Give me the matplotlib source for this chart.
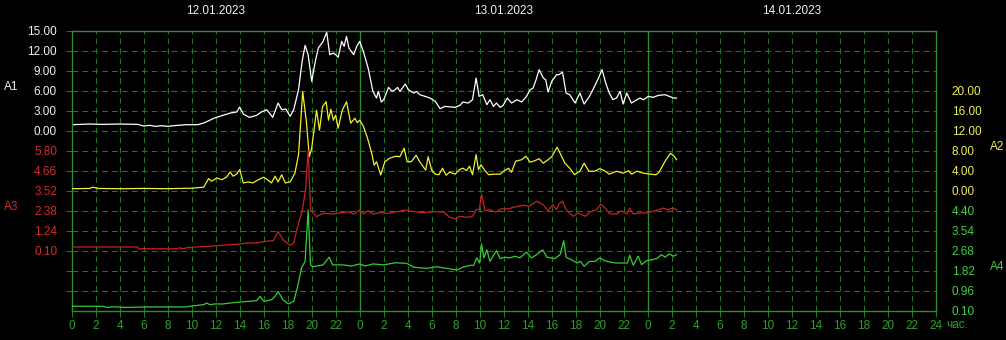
import numpy as np
import matplotlib
matplotlib.use('Agg')
import matplotlib.pyplot as plt

plt.rcParams['font.family'] = ['Liberation Sans', 'DejaVu Sans']

# hours counted from 00:00 of 12.01.2023
dates = ['12.01.2023', '13.01.2023', '14.01.2023']

a1 = [(0, 0.9), (1.5, 1.0), (2.5, 0.95), (4, 1.0), (5.5, 0.95), (6, 0.7), (6.5, 0.8), (7, 0.65),
      (7.5, 0.75), (8, 0.65), (8.5, 0.75), (9.5, 0.9), (10.5, 0.9), (11.0, 1.15), (11.9, 1.9),
      (12.6, 2.3), (13.2, 2.65), (13.75, 2.8), (14.0, 3.55), (14.3, 2.5), (14.8, 2.0), (15.4, 2.3),
      (15.8, 2.8), (16.25, 3.15), (16.75, 2.0), (17.2, 4.15), (17.5, 3.15), (17.85, 3.25),
      (18.2, 2.15), (18.5, 3.15), (18.9, 6.15), (19.2, 10.4), (19.45, 12.8), (19.7, 11.4),
      (20.0, 7.4), (20.3, 10.4), (20.55, 12.4), (20.95, 13.4), (21.25, 14.8), (21.5, 11.4),
      (21.8, 11.65), (22.0, 11.4), (22.2, 11.0), (22.5, 13.4), (22.7, 12.65), (22.9, 14.15),
      (23.1, 12.4), (23.5, 11.4), (23.75, 12.65), (24.0, 13.4), (24.3, 11.9), (24.7, 9.4),
      (25.1, 5.9), (25.4, 4.9), (25.55, 5.9), (25.8, 4.3), (26.0, 4.65), (26.4, 6.5), (26.7, 5.9),
      (26.95, 6.15), (27.15, 6.5), (27.35, 5.9), (27.8, 7.0), (28.05, 6.15), (28.5, 5.65),
      (28.75, 5.9), (29.0, 5.4), (29.45, 5.15), (29.85, 4.9), (30.3, 4.4), (30.7, 3.3),
      (31.1, 3.65), (31.95, 3.5), (32.35, 3.8), (32.6, 4.3), (33.05, 4.15), (33.4, 4.65),
      (33.7, 7.9), (33.95, 5.15), (34.25, 5.4), (34.6, 3.9), (34.85, 4.65), (35.15, 3.65),
      (35.4, 4.15), (35.7, 3.5), (35.95, 3.8), (36.3, 4.9), (36.65, 4.15), (37.1, 4.65),
      (37.5, 4.3), (37.9, 5.15), (38.2, 6.15), (38.45, 6.4), (38.7, 7.65), (38.95, 9.15),
      (39.3, 7.9), (39.5, 7.65), (39.7, 5.8), (40.0, 7.4), (40.4, 8.4), (40.6, 8.4), (40.9, 8.8),
      (41.2, 5.65), (41.5, 5.4), (41.95, 4.15), (42.35, 5.65), (42.7, 4.0), (43.15, 5.15),
      (43.5, 6.4), (43.9, 7.9), (44.2, 9.15), (44.5, 7.15), (44.8, 5.65), (45.1, 4.65),
      (45.4, 4.9), (45.7, 5.9), (45.95, 4.0), (46.25, 5.65), (46.65, 4.15), (47.1, 4.65),
      (47.35, 4.9), (47.65, 4.65), (48.05, 5.15), (48.45, 5.0), (48.9, 5.3), (49.45, 5.4),
      (49.8, 5.15), (50.15, 4.9), (50.4, 4.9)]

a2 = [(0, 0.4), (1.5, 0.45), (1.75, 0.7), (2.2, 0.45), (4, 0.4), (6, 0.45), (8, 0.4), (10, 0.5),
      (11.0, 0.7), (11.4, 2.4), (11.65, 1.9), (12.1, 2.55), (12.5, 2.2), (12.9, 2.7), (13.2, 3.75),
      (13.45, 2.9), (13.75, 3.35), (14.0, 4.2), (14.3, 1.55), (14.7, 1.75), (15.1, 1.55),
      (15.55, 2.2), (16.0, 2.7), (16.3, 2.2), (16.65, 1.55), (16.95, 2.9), (17.2, 1.75),
      (17.5, 3.2), (17.8, 1.55), (18.2, 1.75), (18.6, 3.5), (18.9, 7.2), (19.25, 19.8),
      (19.55, 13.9), (19.8, 6.8), (20.0, 8.5), (20.4, 16.1), (20.65, 12.1), (20.9, 16.8),
      (21.2, 17.8), (21.4, 14.1), (21.6, 16.3), (21.8, 14.1), (22.0, 15.1), (22.2, 12.5),
      (22.55, 16.1), (22.9, 17.8), (23.25, 13.5), (23.6, 14.5), (23.8, 13.6), (24.0, 14.1),
      (24.3, 12.9), (24.65, 10.5), (25.0, 7.5), (25.2, 5.1), (25.4, 5.8), (25.75, 3.15),
      (26.1, 5.8), (26.5, 6.5), (27.0, 6.9), (27.35, 6.8), (27.7, 8.5), (27.95, 5.8), (28.3, 5.8),
      (28.7, 7.1), (29.0, 5.8), (29.5, 4.1), (29.7, 6.8), (30.0, 4.1), (30.3, 3.3), (30.6, 3.2),
      (30.9, 4.5), (31.2, 3.1), (31.5, 3.7), (31.95, 3.3), (32.3, 4.2), (32.6, 4.5), (32.9, 4.0),
      (33.15, 4.9), (33.4, 3.2), (33.7, 7.2), (33.9, 4.2), (34.1, 5.2), (34.45, 4.0),
      (34.75, 3.2), (35.15, 3.3), (35.7, 3.3), (36.0, 3.9), (36.4, 4.5), (36.65, 3.7),
      (37.0, 5.9), (37.5, 6.2), (37.85, 6.9), (38.2, 5.7), (38.6, 6.0), (38.95, 6.4), (39.3, 5.5),
      (39.7, 6.2), (40.0, 6.8), (40.45, 8.7), (40.7, 7.5), (41.1, 5.5), (41.5, 4.5), (41.9, 3.2),
      (42.35, 3.9), (42.7, 5.5), (43.1, 3.9), (43.6, 3.9), (44.0, 4.4), (44.4, 4.0), (44.8, 3.3),
      (45.4, 3.9), (45.95, 3.5), (46.4, 4.0), (46.65, 3.3), (47.1, 3.9), (47.65, 3.5),
      (48.2, 3.3), (48.7, 3.2), (48.95, 3.7), (49.45, 5.9), (49.9, 7.5), (50.2, 6.9), (50.4, 6.2)]

a3 = [(0, 0.31), (5.5, 0.31), (5.6, 0.21), (8.8, 0.21), (9.0, 0.27), (9.2, 0.21), (9.6, 0.27),
      (9.86, 0.29), (11.5, 0.35), (12.6, 0.41), (14.0, 0.48), (14.6, 0.54), (15.4, 0.54),
      (16.2, 0.64), (16.8, 0.67), (17.2, 1.2), (17.6, 0.73), (18.2, 0.41), (18.5, 0.54),
      (18.8, 1.4), (19.25, 2.5), (19.5, 3.7), (19.7, 5.84), (19.9, 2.42), (20.4, 2.04),
      (20.95, 2.23), (21.8, 2.19), (22.5, 2.27), (23.05, 2.32), (23.5, 2.19), (24.0, 2.42),
      (24.3, 2.19), (24.7, 2.38), (25.1, 2.19), (25.7, 2.27), (26.4, 2.23), (27.1, 2.32),
      (27.8, 2.42), (28.5, 2.32), (29.3, 2.27), (30.1, 2.32), (31.0, 2.31), (31.5, 2.0),
      (31.95, 1.92), (32.35, 2.06), (32.9, 2.0), (33.4, 2.06), (33.7, 2.44), (33.97, 2.44),
      (34.15, 3.33), (34.45, 2.38), (34.85, 2.44), (35.3, 2.3), (35.8, 2.49), (36.4, 2.49),
      (36.8, 2.57), (37.2, 2.63), (37.65, 2.69), (38.1, 2.63), (38.75, 2.92), (39.3, 2.72),
      (39.7, 2.38), (40.1, 2.72), (40.4, 2.44), (40.6, 2.76), (40.9, 2.92), (41.25, 2.38),
      (41.8, 2.06), (42.2, 2.25), (42.8, 2.06), (43.2, 2.31), (43.75, 2.44), (44.1, 2.76),
      (44.45, 2.53), (44.85, 2.19), (45.4, 2.19), (45.8, 2.38), (46.25, 2.19), (46.5, 2.53),
      (46.8, 2.19), (47.35, 2.25), (47.9, 2.25), (48.45, 2.35), (48.9, 2.44), (49.3, 2.53),
      (49.7, 2.44), (50.15, 2.53), (50.4, 2.44)]

a4 = [(0, 0.29), (2.5, 0.29), (3.0, 0.24), (3.5, 0.27), (4.5, 0.24), (6.0, 0.26), (8.0, 0.26),
      (9.5, 0.26), (9.86, 0.29), (11.0, 0.36), (11.25, 0.43), (11.5, 0.36), (11.95, 0.39),
      (12.6, 0.39), (13.2, 0.43), (14.0, 0.47), (14.7, 0.5), (15.4, 0.53), (15.7, 0.72),
      (16.0, 0.5), (16.65, 0.57), (16.95, 0.72), (17.2, 0.93), (17.6, 0.57), (18.05, 0.39),
      (18.5, 0.5), (18.8, 1.08), (19.15, 1.94), (19.45, 2.22), (19.7, 4.43), (19.9, 2.07),
      (20.1, 1.99), (20.95, 2.07), (21.45, 2.4), (21.75, 2.07), (22.6, 2.07), (23.3, 2.02),
      (24.0, 2.11), (24.45, 2.02), (25.1, 2.11), (26.0, 2.07), (26.95, 2.16), (27.9, 2.14),
      (28.5, 1.97), (29.6, 1.92), (30.4, 1.99), (31.25, 1.92), (32.1, 1.85), (32.6, 1.97),
      (33.2, 2.05), (33.5, 2.05), (33.75, 2.37), (34.0, 2.15), (34.15, 2.97), (34.35, 2.37),
      (34.6, 2.72), (34.85, 2.22), (35.15, 2.48), (35.4, 2.68), (35.7, 2.34), (36.1, 2.4),
      (36.5, 2.37), (36.95, 2.44), (37.35, 2.37), (37.9, 2.62), (38.3, 2.37), (38.75, 2.51),
      (39.25, 2.72), (39.6, 2.4), (40.25, 2.34), (40.7, 2.51), (41.0, 3.11), (41.2, 2.4),
      (41.65, 2.29), (42.1, 2.15), (42.4, 2.22), (42.7, 2.01), (43.15, 2.22), (43.6, 2.22),
      (44.0, 2.37), (44.4, 2.25), (44.85, 2.19), (45.4, 2.15), (45.95, 2.15), (46.3, 2.15),
      (46.5, 2.48), (46.8, 2.05), (47.2, 2.44), (47.5, 2.08), (47.9, 2.25), (48.35, 2.29),
      (48.75, 2.34), (49.15, 2.51), (49.45, 2.4), (49.8, 2.54), (50.15, 2.44), (50.4, 2.51)]

a1_ticks = np.arange(0, 16, 3)
a2_ticks = np.arange(0, 21, 4)
a3_ticks = np.linspace(0.10, 5.80, 6)
a4_ticks = np.linspace(0.10, 4.40, 6)

GRID = '#1f7a1f'
BORDER = '#2e8e2e'
XLAB = '#2fa02f'
WHITE = '#f0f0f0'
YEL = '#eeee55'
RED = '#d42a2a'
GRN = '#40d040'
FS = 8.5

fig = plt.figure(figsize=(10.06, 3.40), dpi=100, facecolor='black')
ax1 = fig.add_axes([0.0713, 0.0862, 0.8588, 0.8235], facecolor='black')

# A1 axis holds the grid: 14 rows, 3 units per row
ax1.set_xlim(0, 72)
ax1.set_ylim(-27, 15)
ax1.set_xticks(range(0, 73, 2))
ax1.set_xticklabels([str(h % 24) if h < 72 else '24' for h in range(0, 73, 2)])
ax1.set_yticks(a1_ticks)
ax1.set_yticklabels(['%.2f' % v for v in a1_ticks])
ax1.set_yticks(np.arange(-24, 0, 3), minor=True)
ax1.grid(True, which='both', color=GRID, linestyle=(0, (5.5, 4)), linewidth=0.75)
ax1.tick_params(axis='both', which='both', colors=GRID, length=4, width=0.75,
                right=True, labelsize=FS)
ax1.tick_params(axis='y', labelcolor=WHITE, pad=7)
ax1.tick_params(axis='x', labelcolor=XLAB, pad=3)
for s in ax1.spines.values():
    s.set_color(BORDER)
    s.set_linewidth(1.0)
for d in (24, 48):
    ax1.axvline(d, color=BORDER, lw=1.0)

ax2 = ax1.twinx()
ax2.set_ylim(-24, 32)
ax3 = ax1.twinx()
ax3.set_ylim(-3.32, 12.64)
ax4 = ax1.twinx()
ax4.set_ylim(0.10, 12.14)

ax3.yaxis.tick_left()
ax3.yaxis.set_label_position('left')
for ax, ticks, col in ((ax2, a2_ticks, YEL), (ax3, a3_ticks, RED), (ax4, a4_ticks, GRN)):
    ax.set_yticks(ticks)
    ax.set_yticklabels(['%.2f' % v for v in ticks])
    ax.tick_params(axis='y', length=0, labelcolor=col, labelsize=FS, pad=10.5)
    for s in ax.spines.values():
        s.set_visible(False)
ax2.tick_params(axis='y', pad=11.5)
ax4.tick_params(axis='y', pad=11.5)

for ax, data, col in ((ax1, a1, 'white'), (ax2, a2, '#f0f030'), (ax3, a3, '#c82020'),
                      (ax4, a4, '#36cc36')):
    h, v = zip(*data)
    ax.plot(h, v, color=col, lw=0.9)

for ax, name, col, xy in ((ax1, 'A1', WHITE, (-0.070, 0.799)), (ax3, 'A3', RED, (-0.070, 0.370)),
                          (ax2, 'A2', YEL, (1.071, 0.585)), (ax4, 'A4', GRN, (1.071, 0.156))):
    ax.set_ylabel(name, rotation=0, color=col, fontsize=FS, ha='center', va='center')
    ax.yaxis.set_label_coords(*xy)

sec = ax1.secondary_xaxis('top')
sec.set_xticks([12, 36, 60])
sec.set_xticklabels(dates)
sec.tick_params(length=0, pad=10, labelcolor=WHITE, labelsize=FS)
sec.spines['top'].set_visible(False)

ax1.text(1.012, -0.052, 'час.', transform=ax1.transAxes, color=XLAB, fontsize=FS,
         ha='left', va='center')

fig.savefig('out.png', dpi=100, facecolor='black')
